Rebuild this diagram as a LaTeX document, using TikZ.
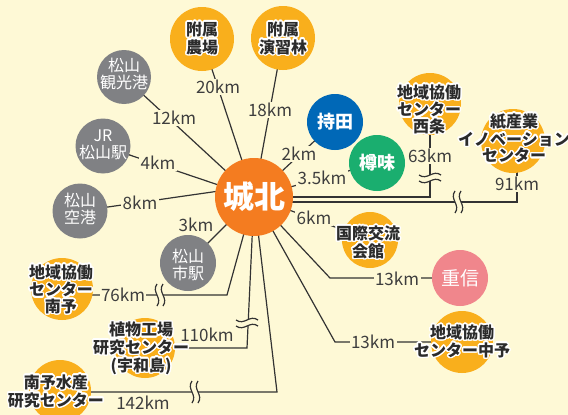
\documentclass[tikz,border=0pt]{standalone}
\usepackage{fontspec}
\setmainfont{Noto Sans CJK JP}
\usepackage[copies]{contour}
\contourlength{1.5pt}
\contournumber{20}
\newcommand\hl[1]{\contour{white}{#1}}
\definecolor{bg}{HTML}{FEF9D6}
\definecolor{orc}{HTML}{F9AF1C}
\definecolor{jcc}{HTML}{F47C20}
\definecolor{gry}{HTML}{808184}
\definecolor{blu}{HTML}{0068B7}
\definecolor{grn}{HTML}{1AAE6F}
\definecolor{pnk}{HTML}{F0868C}
\definecolor{lc}{HTML}{333333}
\definecolor{tc}{HTML}{3E3E3E}
\definecolor{otc}{HTML}{2B2B2B}
\tikzset{
  ln/.style={draw=lc, line width=1.2pt},
  dot/.style={circle, inner sep=0pt, minimum size=#1},
  grtx/.style={text=white, align=center, inner sep=0pt, font=\fontsize{16}{17}\selectfont},
  otx/.style={align=center, text=otc, inner sep=0pt, font=\fontsize{16}{16.5}\selectfont\bfseries},
  km/.style={fill=bg, inner sep=1.5pt, text=tc, font=\fontsize{17}{17}\selectfont},
  brk/.pic={
    \fill[bg] (-3,-11) rectangle (3,11);
    \draw[ln] (-3,-11) .. controls (-9,-3) and (3,3) .. (-3,11);
    \draw[ln] (3,-11) .. controls (-3,-3) and (9,3) .. (3,11);
  }
}
\begin{document}
\begin{tikzpicture}[x=1pt,y=-1pt]
\path[use as bounding box, fill=bg] (0,0) rectangle (568,415);
\coordinate (jk) at (254,186);
\coordinate (c63) at (430,197);
\coordinate (c91a) at (254,202);
\coordinate (c91) at (517,202);
\coordinate (c13a) at (330,278);
\coordinate (c13b) at (335,342);
\coordinate (c76) at (227,295);
\coordinate (c110) at (247,348);
\coordinate (c142) at (277,392);

\path
  (254,197) node[dot=78pt] (jc) {}
  (202,39) node[dot=64pt] (noj) {}
  (283,38) node[dot=64pt] (ens) {}
  (124,77) node[dot=54pt] (kan) {}
  (103,146) node[dot=55pt] (jr) {}
  (80,211) node[dot=55pt] (kuk) {}
  (188,263) node[dot=56pt] (shi) {}
  (335,122) node[dot=56pt] (moc) {}
  (377,163) node[dot=56pt] (tar) {}
  (430,104) node[dot=62pt] (sai) {}
  (513,141) node[dot=64pt] (kam) {}
  (370,240) node[dot=56pt] (kok) {}
  (460,278) node[dot=56pt] (shg) {}
  (462,342) node[dot=62pt] (chu) {}
  (62,289) node[dot=62pt] (nan) {}
  (145,348) node[dot=60pt] (sho) {}
  (60,391) node[dot=62pt] (sui) {};

% connectors
\draw[ln] (jc.center) -- (noj.center);
\draw[ln] (jc.center) -- (ens.center);
\draw[ln] (jc.center) -- (kan.center);
\draw[ln] (jc.center) -- (jr.center);
\draw[ln] (jk) -- (kuk.center);
\draw[ln] (jc.center) -- (shi.center);
\draw[ln] (jc.center) -- (moc.center);
\draw[ln] (jc.center) -- (tar.center);
\draw[ln] (jc.center) -- (kok.center);
\draw[ln] (jc.center) -- (c63) -- (c63 |- sai.center);
\draw[ln] (c91a) -- (c91) -- (c91 |- kam.center);
\draw[ln] (jc.center) -- (c13a) -- (c13a -| shg.center);
\draw[ln] (jc.center) -- (c13b) -- (c13b -| chu.center);
\draw[ln] (jc.center) -- (c76) -- (c76 -| nan.center);
\draw[ln] (jc.center) -- (c110) -- (c110 -| sho.center);
\draw[ln] (jc.center) -- (c142) -- (c142 -| sui.center);

% break marks
\pic at (160,295) {brk};
\pic at (195,392) {brk};
\pic at (458,202) {brk};
\pic[rotate=90] at (430,178) {brk};
\pic[rotate=90] at (247,323) {brk};

% distance labels
\node[km] (l20) at (218,87) {20km};
\node[km] (l18) at (270,110) {18km};
\node[km] (l12) at (174,118) {12km};
\node[km] (l4) at (158,163) {4km};
\node[km] (l8) at (140,203) {8km};
\node[km] (l3) at (196,225) {3km};
\node[km] (l2) at (299,154) {2km};
\node[km] (l35) at (322,178) {3.5km};
\node[km] (l6) at (314,218) {6km};
\node[km] (l63) at (430,156) {63km};
\node[km] (l91) at (517,184) {91km};
\node[km] (l13a) at (397,279) {13km};
\node[km] (l13b) at (373,342) {13km};
\node[km] (l76) at (123,295) {76km};
\node[km] (l110) at (207,335) {110km};
\node[km] (l142) at (143,403) {142km};

% filled circles
\fill[jcc] (jc.center) circle (39);
\fill[orc] (noj.center) circle (32);
\fill[orc] (ens.center) circle (32);
\fill[gry] (kan.center) circle (27);
\fill[gry] (jr.center) circle (27.5);
\fill[gry] (kuk.center) circle (27.5);
\fill[gry] (shi.center) circle (28);
\fill[blu] (moc.center) circle (28);
\fill[grn] (tar.center) circle (28);
\fill[orc] (sai.center) circle (31);
\fill[orc] (kam.center) circle (32);
\fill[orc] (kok.center) circle (28);
\fill[pnk] (shg.center) circle (28);
\fill[orc] (chu.center) circle (31);
\fill[orc] (nan.center) circle (31);
\fill[orc] (sho.center) circle (30);
\fill[orc] (sui.center) circle (31);

% texts
\node[text=white, font=\fontsize{31}{31}\selectfont\bfseries] (jcT) at (jc.center) {城北};
\node[otx] (nojT) at (202,39) {\hl{附属}\\\hl{農場}};
\node[otx] (ensT) at (283,39) {\hl{附属}\\\hl{演習林}};
\node[grtx] (kanT) at (124,74) {松山\\観光港};
\node[grtx] (jrT) at (103,145) {JR\\松山駅};
\node[grtx] (kukT) at (80,209) {松山\\空港};
\node[grtx] (shiT) at (188,265) {松山\\市駅};
\node[text=white, font=\fontsize{18}{18}\selectfont\bfseries] (mocT) at (moc.center) {持田};
\node[text=white, font=\fontsize{18}{18}\selectfont\bfseries] (tarT) at (tar.center) {樽味};
\node[text=white, font=\fontsize{19}{19}\selectfont] (shgT) at (shg.center) {重信};
\node[otx] (saiT) at (429,110) {\hl{地域協働}\\\hl{センター}\\\hl{西条}};
\node[otx] (kamT) at (514,139) {\hl{紙産業}\\\hl{イノベーション}\\\hl{センター}};
\node[otx] (kokT) at (368,243) {\hl{国際交流}\\\hl{会館}};
\node[otx] (chuT) at (462,342) {\hl{地域協働}\\\hl{センター中予}};
\node[otx] (nanT) at (61,290) {\hl{地域協働}\\\hl{センター}\\\hl{南予}};
\node[otx] (shoT) at (141,349) {\hl{植物工場}\\\hl{研究センター}\\\hl{(宇和島)}};
\node[otx] (suiT) at (56,392) {\hl{南予水産}\\\hl{研究センター}};
\end{tikzpicture}
\end{document}
